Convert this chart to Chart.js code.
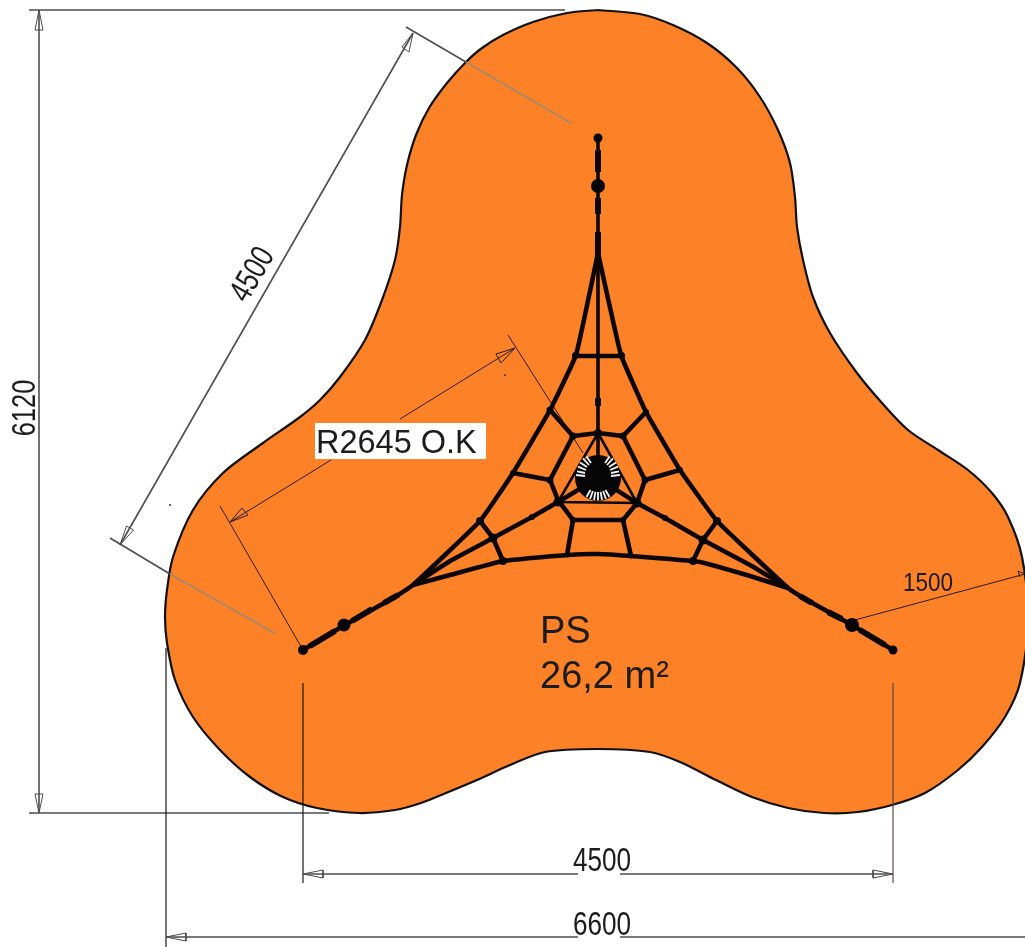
<!DOCTYPE html>
<html lang="es">

<head>
    <meta charset="UTF-8">
    <title>PS 26,2 m²</title>
    <script src="https://cdn.jsdelivr.net/npm/chart.js"></script>
    <style>
        html, body {
            margin: 0;
            padding: 0;
            background-color: #fff;
        }

        #chart-container {
            position: relative;
            width: 1025px;
            height: 947px;
            overflow: hidden;
        }
    </style>
</head>

<body>
    <div id="chart-container">
        <canvas id="planChart" width="1025" height="947"></canvas>
    </div>

    <script>
        // orange safety surface outline (clockwise from the top)
        const surfaceOutline = [[598,10],[640,14],[673,25],[707,43],[737,68],[760,97],[778,130],[790,163],[795,197],[797,227],[803,260],[813,297],[830,333],[857,373],[882,403],[908,430],[938,450],[968,470],[992,493],[1008,517],[1022,557],[1028,620],[1020,683],[1005,717],[982,747],[958,770],[925,793],[892,805],[858,812],[824,813],[788,808],[752,797],[716,780],[680,762],[650,752],[598,749],[545,752],[510,765],[477,780],[446,793],[421,803],[395,810],[359,813],[317,808],[283,797],[250,777],[220,750],[193,717],[175,680],[167,643],[165,617],[167,590],[173,557],[193,510],[223,473],[263,443],[300,417],[320,400],[340,377],[365,340],[382,300],[395,260],[400,227],[402,195],[407,165],[416,135],[429,108],[447,83],[466,62],[482,48],[503,35],[533,22],[567,13],[598,10]];
        const labelBox = [[315,423],[486,423],[486,459],[315,459],[315,423]];

        // net ropes
        const spine = [[598,138],[598,478]];
        const legLeft = [[598,253],[576,355],[550,410],[513,473],[480,521],[413,585],[395,597],[343,626],[303,650]];
        const legRight = [[598,253],[621,355],[646,412],[680,470],[717,521],[788,588],[807,600],[852,625],[893,650]];
        const topBar = [[572,356],[625,356]];
        const ringUpper = [[550,410],[573,436],[598,433],[623,436],[646,412]];
        const ringLeft = [[513,473],[550,480],[558,500],[573,520],[623,520],[637,503],[645,480],[680,470]];
        const ringSideLeft = [[573,436],[550,480]];
        const ringSideRight = [[623,436],[645,480]];
        const innerTriangle = [[598,433],[558,502],[637,503],[598,433]];
        const strutLeft = [[573,520],[567,555]];
        const strutRight = [[623,520],[631,556]];
        const bottomArc = [[413,585],[450,575],[503,561],[567,555],[598,554],[631,556],[700,562],[750,576],[788,588]];
        const rayLeft = [[598,478],[558,502],[532,517],[493,538],[450,561],[413,585]];
        const rayRight = [[598,478],[637,503],[665,518],[703,540],[750,565],[788,588]];
        const crossLeft = [[480,521],[493,538],[503,561]];
        const crossRight = [[717,521],[703,540],[693,561]];

        // thicker rope sleeves
        const sleeves = [
            [[598,150],[598,172]], [[598,198],[598,214]], [[598,232],[598,262]], [[598,398],[598,406]],
            [[310,646],[335,631]], [[352,621],[372,609]], [[384,603],[398,595]],
            [[860,630],[885,645]], [[828,612],[842,619]], [[800,596],[812,603]]
        ];

        // hub: white spokes, [x1, y1, x2, y2]
        const hubSpokes = [
            [585,476,576,475],[585,473,577,471.3],[586,470,578,466.7],[587,467,580,462.4],[589,465,583,458.4],[591,463,586.4,456.5],
            [611,476,620,475],[611,473,619,471.3],[610,470,618,466.7],[609,467,616,462.4],[607,465,613,458.4],[605,463,609.6,456.5],
            [590.5,490,586.5,497],[592.9,491.1,590,499],[595.4,491.8,594,500],[598,492,598,500.5],[600.6,491.8,602,500],[603.1,491.1,606,499],[605.5,490,609.5,497]
        ];

        // rope knots and posts: x, y, radius
        const knotX = [598,598,303,344,852,893,598,576,621,550,646,573,623,598,513,680,550,645,558,637,480,717,493,703,503,693,532,665,573,623,567,631];
        const knotY = [138,186,650,625,625,650,478,355,355,410,412,436,436,433,473,470,480,480,502,503,521,521,538,540,561,561,517,518,520,520,555,556];
        const knotR = [4.5,7,5,6.5,7,4.5,23,3.5,3.5,3.5,3,3.5,3.5,4,3,3,3.5,3.5,4.5,4.5,4,4,4.5,4.5,4,4,3,3,3,3,2.5,2.5];

        const specks = [[505,375],[170,505]];

        // dimension lines
        const dimHeight = [[39,10],[39,813]];
        const dimHeightTop = [[29,10],[565,10]];
        const dimHeightBottom = [[29,813],[329,813]];
        const dimSlant = [[413,33],[120,545]];
        const extSlantTopOut = [[406,27],[466,62]];
        const extSlantTopIn = [[466,62],[571,123]];
        const extSlantLowOut = [[110,538],[170,574]];
        const extSlantLowIn = [[170,574],[276,634]];
        const dimRadiusA = [[515,348],[400,419]];
        const dimRadiusB = [[331,460],[230,522]];
        const extRadiusA = [[508,335],[583,453]];
        const extRadiusB = [[220,506],[303,650]];
        const dim1500 = [[855,620],[1025,574]];
        const dim4500A = [[303,874],[578,874]];
        const dim4500B = [[620,874],[893,874]];
        const ext4500Left = [[303,683],[303,883]];
        const ext4500Right = [[893,683],[893,883]];
        const dim6600A = [[166,937],[578,937]];
        const dim6600B = [[620,937],[1025,937]];
        const ext6600 = [[166,648],[166,947]];

        // arrow heads
        const arrowsGrey = [
            [[39,10],[35,30],[43,30],[39,10]],
            [[39,813],[35,794],[43,794],[39,813]],
            [[413,33],[402,47],[409,52],[413,33]],
            [[120,545],[133.5,530],[126.5,526],[120,545]],
            [[303,874],[323,870],[323,878],[303,874]],
            [[893,874],[873,870],[873,878],[893,874]],
            [[166,937],[186,933],[186,941],[166,937]]
        ];
        const arrowsDark = [
            [[515,348],[496,354],[501,363],[515,348]],
            [[230,522],[242,508],[248,515],[230,522]],
            [[1025,574],[1018,571],[1020,577]]
        ];

        // text: string, x, y, font size, horizontal stretch, rotation in degrees
        const textLabels = [
            ['6120', 26, 408, 33, 0.77, -90],
            ['4500', 253, 275, 33, 0.77, -60],
            ['R2645 O.K', 316, 453, 32.5, 1, 0],
            ['PS', 540, 643, 38, 1, 0],
            ['26,2 m²', 540, 688, 38, 1, 0],
            ['1500', 928, 591, 25, 0.9, 0],
            ['4500', 602, 871, 34, 0.77, 0],
            ['6600', 602, 935, 34, 0.77, 0]
        ];

        const toPoints = pts => pts.map(p => ({ x: p[0], y: p[1] }));
        const datasets = [];

        function addLine(pts, color, width, extra) {
            datasets.push(Object.assign({
                data: toPoints(pts),
                showLine: true,
                borderColor: color,
                borderWidth: width,
                pointRadius: 0,
                pointHoverRadius: 0,
                fill: false,
                tension: 0,
                order: -datasets.length
            }, extra || {}));
        }

        const GREY = '#4d4d4d';
        const DARK = '#2a1a14';
        const ROPE = '#0c0604';

        addLine(surfaceOutline, '#111111', 2.2, { tension: 0.3, fill: 'shape', backgroundColor: '#fd8127' });

        [extSlantTopOut, extSlantLowOut, dimSlant, dimHeight, dimHeightTop, dimHeightBottom, dim6600A, dim6600B, dim4500A, dim4500B]
            .forEach(l => addLine(l, GREY, 1.6));
        [extSlantTopIn, extSlantLowIn].forEach(l => addLine(l, '#a08a6e', 1.6));
        [dimRadiusA, dimRadiusB, extRadiusA, extRadiusB, dim1500].forEach(l => addLine(l, DARK, 1));
        [ext4500Left, ext6600].forEach(l => addLine(l, '#1a1a1a', 1.2));
        addLine(ext4500Right, '#5a4a48', 1.2);
        arrowsGrey.forEach(l => addLine(l, GREY, 1));
        arrowsDark.forEach(l => addLine(l, DARK, 1));

        addLine(labelBox, '#ffffff', 0, { fill: 'shape', backgroundColor: '#ffffff' });

        [legLeft, legRight, bottomArc, rayLeft, rayRight].forEach(l => addLine(l, ROPE, 4.6, { tension: 0.1 }));
        [topBar, ringUpper, ringLeft, ringSideLeft, ringSideRight, strutLeft, strutRight, crossLeft, crossRight]
            .forEach(l => addLine(l, ROPE, 4.6));
        addLine(spine, ROPE, 3.6);
        addLine(innerTriangle, ROPE, 2.6);
        sleeves.forEach(l => addLine(l, ROPE, 6));

        datasets.push({
            data: knotX.map((x, i) => ({ x: x, y: knotY[i] })),
            showLine: false,
            pointRadius: knotR,
            pointHoverRadius: knotR,
            pointBackgroundColor: '#050505',
            pointBorderWidth: 0,
            order: -datasets.length
        });

        hubSpokes.forEach(s => addLine([[s[0], s[1]], [s[2], s[3]]], '#f4f4f4', 1.8));
        addLine(specks, '#333', 0, { showLine: false, pointRadius: 1, pointBackgroundColor: '#333', pointBorderWidth: 0 });

        // draws the dimensions and notes at positions given in axis values
        const textPlugin = {
            id: 'planText',
            afterDatasetsDraw(chart) {
                const ctx = chart.ctx;
                textLabels.forEach(t => {
                    const rotated = t[5] !== 0;
                    ctx.save();
                    ctx.translate(chart.scales.x.getPixelForValue(t[1]), chart.scales.y.getPixelForValue(t[2]));
                    ctx.rotate(t[5] * Math.PI / 180);
                    ctx.scale(t[4], 1);
                    ctx.font = t[3] + 'px "Liberation Sans", Arial, sans-serif';
                    ctx.fillStyle = '#1c1c1c';
                    ctx.textAlign = (rotated || t[4] !== 1) ? 'center' : 'left';
                    ctx.textBaseline = rotated ? 'middle' : 'alphabetic';
                    ctx.fillText(t[0], 0, 0);
                    ctx.restore();
                });
            }
        };

        new Chart(document.getElementById('planChart').getContext('2d'), {
            type: 'scatter',
            data: { datasets: datasets },
            plugins: [textPlugin],
            options: {
                responsive: false,
                animation: false,
                layout: { padding: 0, autoPadding: false },
                plugins: {
                    legend: { display: false },
                    tooltip: { enabled: false }
                },
                scales: {
                    x: { type: 'linear', min: 0, max: 1025, display: false },
                    y: { type: 'linear', min: 0, max: 947, reverse: true, display: false }
                }
            }
        });
    </script>
</body>

</html>
